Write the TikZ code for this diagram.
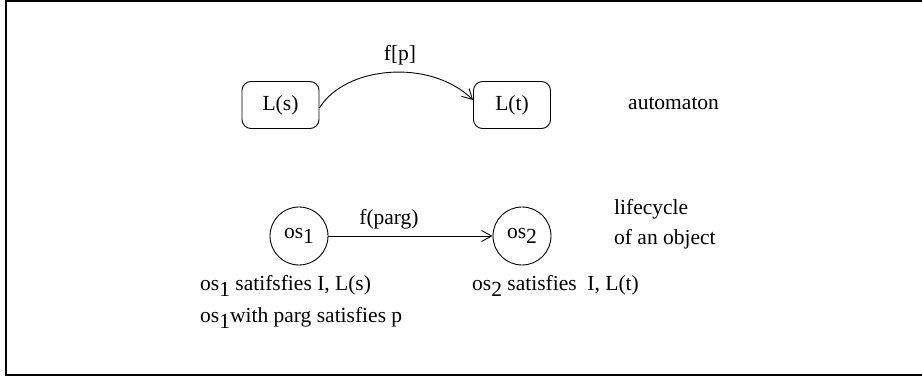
\documentclass[tikz,border=0pt]{standalone}
\usepackage{fontspec}
\setmainfont{Liberation Serif}
\usetikzlibrary{arrows.meta}
\newcommand{\lowr}[1]{\raisebox{-0.55ex}{#1}}
\begin{document}
\begin{tikzpicture}[x=1pt,y=-1pt,
  txt/.style={font=\fontsize{21.5}{24}\selectfont, inner sep=0pt},
  state/.style={txt, draw, rounded corners=9pt, minimum width=77pt, minimum height=47pt, line width=0.9pt},
  obj/.style={txt, draw, circle, minimum size=58pt, line width=0.9pt},
  conn/.style={line width=0.9pt, -{Straight Barb[length=10pt,width=11pt,line width=0.9pt]}},
  frame/.style={line width=2pt}]
\useasboundingbox (0,0) rectangle (922,379);
\draw[frame] (922,1) -- (6,1) -- (6,375) -- (922,375);
\node[state] (ls) at (280.5,105) {L(s)};
\node[state] (lt) at (512,105) {L(t)};
\draw[conn] ([yshift=-3pt]ls.east) .. controls (345,66) and (430,58) .. ([yshift=5pt]lt.west);
\node[txt] (fp) at (400,55) {f[p]};
\node[txt, anchor=west] (auto) at (628,104) {automaton};
\node[obj] (o1) at (299,236) {os\lowr{1}};
\node[obj] (o2) at (522,236) {os\lowr{2}};
\draw[conn] (o1.east) -- (o2.west);
\node[txt] (fparg) at (389,219) {f(parg)};
\node[txt, anchor=west] (lc1) at (614,209) {lifecycle};
\node[txt, anchor=west] (lc2) at (614,239) {of an object};
\node[txt, anchor=west] (s1) at (200,286) {os\lowr{1} satifsfies I, L(s)};
\node[txt, anchor=west] (s2) at (200,318) {os\lowr{1}with parg satisfies p};
\node[txt, anchor=west] (s3) at (472,286) {os\lowr{2} satisfies \ I, L(t)};
\end{tikzpicture}
\end{document}
